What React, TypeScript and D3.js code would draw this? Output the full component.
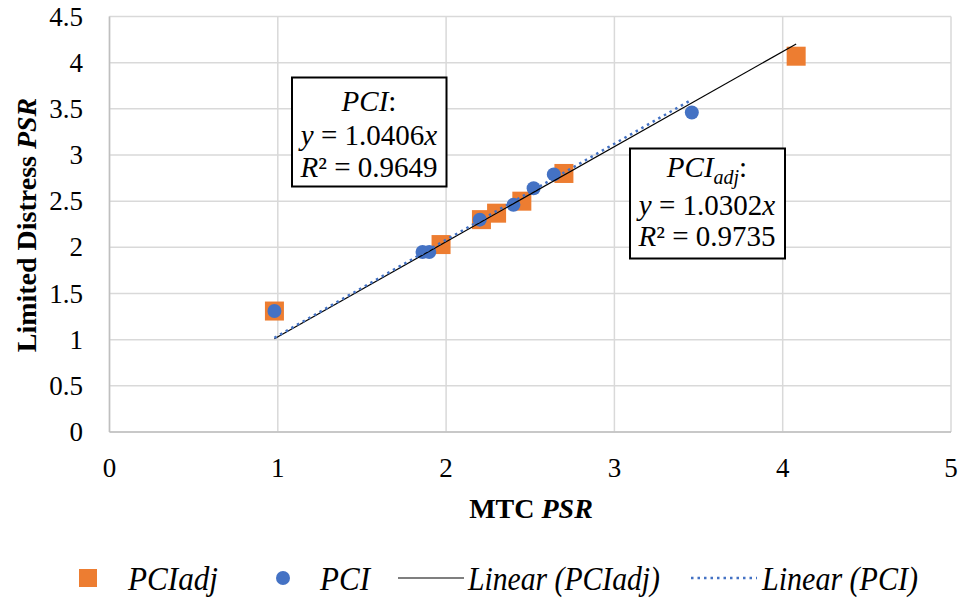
import React from 'react';
import * as d3 from 'd3';

// PCIadj (orange squares)
const pciAdjX = [0.98, 1.97, 2.21, 2.30, 2.45, 2.70, 4.08];
const pciAdjY = [1.31, 2.03, 2.30, 2.37, 2.50, 2.80, 4.07];
// PCI (blue circles)
const pciX = [0.98, 1.86, 1.90, 2.20, 2.40, 2.52, 2.64, 3.46];
const pciY = [1.31, 1.95, 1.95, 2.30, 2.46, 2.64, 2.79, 3.46];
// trendlines forced through origin
const slopeAdj = 1.0302;
const slopePci = 1.0406;
const r2Adj = 0.9735;
const r2Pci = 0.9649;

const xTicks = [0, 1, 2, 3, 4, 5];
const yTicks = [0, 0.5, 1, 1.5, 2, 2.5, 3, 3.5, 4, 4.5];

const W = 961;
const H = 599;
const serif = { fontFamily: "'Liberation Serif'" };

const App = () => {
  const x = d3.scaleLinear().domain([0, 5]).range([109.5, 951]);
  const y = d3.scaleLinear().domain([0, 4.5]).range([432, 16.5]);

  const line = d3.line<number[]>().x((d) => x(d[0])).y((d) => y(d[1]));
  const ax0 = d3.min(pciAdjX) as number;
  const ax1 = d3.max(pciAdjX) as number;
  const px0 = d3.min(pciX) as number;
  const px1 = d3.max(pciX) as number;
  const adjLine = line([[ax0, slopeAdj * ax0], [ax1, slopeAdj * ax1]]);
  const pciLine = line([[px0, slopePci * px0], [px1, slopePci * px1]]);

  const sq = 19;

  return (
    <svg width={W} height={H} style={{ position: 'absolute', left: 0, top: 0, background: '#fff' }}>
      {/* grid */}
      {yTicks.map((t) => (
        <line key={'gy' + t} x1={x(0)} x2={x(5)} y1={y(t)} y2={y(t)} stroke="#d9d9d9" strokeWidth={1.5} />
      ))}
      {xTicks.map((t) => (
        <line key={'gx' + t} x1={x(t)} x2={x(t)} y1={y(0)} y2={y(4.5)} stroke="#d9d9d9" strokeWidth={1.5} />
      ))}
      <line x1={x(0)} x2={x(0)} y1={y(0)} y2={y(4.5)} stroke="#bfbfbf" strokeWidth={1.5} />
      <line x1={x(0)} x2={x(5)} y1={y(0)} y2={y(0)} stroke="#bfbfbf" strokeWidth={1.5} />

      <g style={serif}>
        {/* tick labels */}
        {yTicks.map((t) => (
          <text key={'ty' + t} x={83} y={y(t) + 9} textAnchor="end" fontSize={27}>
            {t}
          </text>
        ))}
        {xTicks.map((t) => (
          <text key={'tx' + t} x={x(t)} y={477} textAnchor="middle" fontSize={27}>
            {t}
          </text>
        ))}

        {/* axis titles */}
        <text x={531} y={518} textAnchor="middle" fontSize={28} fontWeight="bold">
          MTC <tspan fontStyle="italic">PSR</tspan>
        </text>
        <text transform="translate(36,225) rotate(-90)" textAnchor="middle" fontSize={28} fontWeight="bold">
          Limited Distress <tspan fontStyle="italic">PSR</tspan>
        </text>
      </g>

      {/* markers */}
      {pciAdjX.map((v, i) => (
        <rect key={'s' + i} x={x(v) - sq / 2} y={y(pciAdjY[i]) - sq / 2} width={sq} height={sq} fill="#ed7d31" />
      ))}
      {pciX.map((v, i) => (
        <circle key={'c' + i} cx={x(v)} cy={y(pciY[i])} r={7} fill="#4472c4" />
      ))}

      {/* trendlines */}
      <path d={adjLine || ''} stroke="#000" strokeWidth={1.2} fill="none" />
      <path d={pciLine || ''} stroke="#4472c4" strokeWidth={2.5} strokeDasharray="2.5,4" fill="none" />

      <g style={serif}>
        {/* PCI box */}
        <rect x={292} y={77.5} width={154.5} height={109} fill="#fff" stroke="#000" strokeWidth={2} />
        <text x={369} y={111} textAnchor="middle" fontSize={29}>
          <tspan fontStyle="italic">PCI</tspan>:
        </text>
        <text x={369} y={145} textAnchor="middle" fontSize={29}>
          <tspan fontStyle="italic">y</tspan> = {slopePci}<tspan fontStyle="italic">x</tspan>
        </text>
        <text x={369} y={177} textAnchor="middle" fontSize={29}>
          <tspan fontStyle="italic">R</tspan>² = {r2Pci}
        </text>

        {/* PCIadj box */}
        <rect x={630} y={148.5} width={155} height={110} fill="#fff" stroke="#000" strokeWidth={2} />
        <text x={707} y={177} textAnchor="middle" fontSize={29}>
          <tspan fontStyle="italic">PCI</tspan>
          <tspan fontStyle="italic" fontSize={20} dy={7}>adj</tspan>
          <tspan dy={-7}>:</tspan>
        </text>
        <text x={707} y={215} textAnchor="middle" fontSize={29}>
          <tspan fontStyle="italic">y</tspan> = {slopeAdj}<tspan fontStyle="italic">x</tspan>
        </text>
        <text x={707} y={246} textAnchor="middle" fontSize={29}>
          <tspan fontStyle="italic">R</tspan>² = {r2Adj}
        </text>

        {/* legend */}
        <rect x={79} y={569} width={18} height={18} fill="#ed7d31" />
        <text x={128} y={590} fontSize={33} fontStyle="italic" textLength={90} lengthAdjust="spacingAndGlyphs">
          PCIadj
        </text>
        <circle cx={283} cy={578} r={7} fill="#4472c4" />
        <text x={320} y={590} fontSize={33} fontStyle="italic" textLength={50} lengthAdjust="spacingAndGlyphs">
          PCI
        </text>
        <line x1={398} x2={464} y1={578} y2={578} stroke="#000" strokeWidth={1.2} />
        <text x={468} y={590} fontSize={33} fontStyle="italic" textLength={192} lengthAdjust="spacingAndGlyphs">
          Linear (PCIadj)
        </text>
        <line x1={691} x2={757} y1={578} y2={578} stroke="#4472c4" strokeWidth={2.5} strokeDasharray="2.5,4" />
        <text x={762} y={590} fontSize={33} fontStyle="italic" textLength={156} lengthAdjust="spacingAndGlyphs">
          Linear (PCI)
        </text>
      </g>
    </svg>
  );
};

export default App;
